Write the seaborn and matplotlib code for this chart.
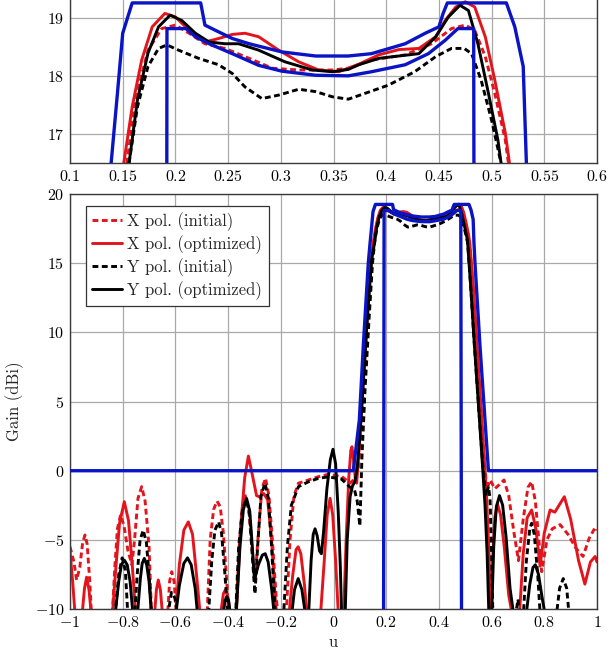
import matplotlib
matplotlib.use("Agg")
import matplotlib.pyplot as plt
from matplotlib.ticker import FuncFormatter, MultipleLocator
import seaborn as sns

# X pol. (initial) - red dashed
xi_u = [-1.0, -0.985, -0.975, -0.963, -0.952, -0.943, -0.935, -0.925, -0.918,
        -0.84, -0.83, -0.82, -0.808, -0.795, -0.78, -0.765, -0.755, -0.742, -0.728, -0.715, -0.7, -0.69,
        -0.63, -0.622, -0.614, -0.605, -0.595,
        -0.48, -0.468, -0.455, -0.442, -0.43, -0.418, -0.405, -0.398,
        -0.37, -0.358, -0.345, -0.335, -0.322, -0.31, -0.298, -0.287, -0.272, -0.258, -0.245, -0.232, -0.218, -0.21,
        -0.18, -0.165, -0.15, -0.133, -0.115, -0.095, -0.057, -0.019, 0.032, 0.063, 0.08, 0.095, 0.105, 0.12,
        0.135, 0.148, 0.154, 0.162, 0.174, 0.187, 0.2, 0.213, 0.228, 0.247, 0.27, 0.292, 0.317, 0.349, 0.364,
        0.386, 0.418, 0.443, 0.462, 0.475, 0.484, 0.494, 0.503, 0.513, 0.516, 0.528, 0.543, 0.558, 0.572,
        0.58, 0.588, 0.595, 0.612, 0.63, 0.647, 0.665, 0.685, 0.702, 0.72, 0.738, 0.752, 0.766, 0.79,
        0.81, 0.83, 0.86, 0.89, 0.92, 0.947, 0.97, 0.993, 1.0]
xi_g = [-5.5, -6.6, -7.9, -7.0, -5.2, -4.65, -5.3, -8.0, -10.6,
        -10.6, -7.0, -4.2, -3.2, -4.0, -5.8, -6.8, -5.0, -2.0, -1.15, -2.2, -5.5, -10.6,
        -10.6, -8.0, -7.3, -8.0, -10.6,
        -10.6, -5.0, -2.8, -2.2, -2.6, -4.5, -8.0, -10.6,
        -10.6, -5.5, -2.5, -1.8, -2.8, -5.5, -8.0, -5.0, -1.3, -0.55, -1.8, -5.0, -9.0, -10.6,
        -10.6, -5.0, -1.8, -0.9, -0.8, -0.67, -0.43, -0.26, -0.43, -0.9, -0.6, 0.3, 3.0, 7.6,
        12.0, 15.5, 16.5, 17.59, 18.44, 18.81, 18.87, 18.73, 18.55, 18.47, 18.3, 18.13, 18.1, 18.1, 18.13,
        18.27, 18.36, 18.55, 18.81, 18.87, 18.78, 18.33, 17.7, 16.9, 16.5, 13.5, 9.0, 4.8, 0.8,
        -0.9, -1.0, -0.67, -1.3, -1.0, -0.67, -1.8, -4.5, -6.5, -3.5, -1.2, -0.8, -2.2, -7.3,
        -5.0, -4.2, -3.9, -4.6, -5.6, -6.2, -4.9, -4.1, -4.3]

# X pol. (optimized) - red solid
xo_u = [-1.0, -0.99, -0.98, -0.955, -0.945, -0.937, -0.928, -0.918,
        -0.84, -0.826, -0.812, -0.794, -0.778, -0.763, -0.75,
        -0.68, -0.672, -0.665, -0.657, -0.648,
        -0.6, -0.585, -0.568, -0.551, -0.535, -0.52, -0.505,
        -0.43, -0.418, -0.41, -0.4, -0.39,
        -0.37, -0.352, -0.337, -0.323, -0.308, -0.292, -0.28, -0.265, -0.25, -0.235, -0.222, -0.215,
        -0.17, -0.155, -0.142, -0.134, -0.124, -0.11, -0.1,
        -0.05, -0.035, -0.024, -0.013, -0.003, 0.008, 0.019, 0.038, 0.048, 0.058, 0.066, 0.07, 0.076,
        0.083, 0.088, 0.095, 0.105, 0.12, 0.135, 0.145, 0.151, 0.159, 0.168, 0.178, 0.19, 0.2, 0.213,
        0.228, 0.241, 0.254, 0.266, 0.279, 0.298, 0.317, 0.336, 0.355, 0.374, 0.393, 0.412, 0.431, 0.447,
        0.456, 0.466, 0.475, 0.484, 0.494, 0.503, 0.513, 0.517, 0.53, 0.545, 0.558, 0.57, 0.58, 0.59,
        0.597, 0.605, 0.612, 0.622, 0.634, 0.648, 0.665, 0.68,
        0.705, 0.72, 0.735, 0.752, 0.768, 0.784, 0.8, 0.822, 0.84, 0.876, 0.9, 0.93, 0.954, 0.975, 0.993, 1.0]
xo_g = [-5.8, -8.0, -10.6, -10.6, -8.5, -7.7, -8.6, -10.6,
        -10.6, -7.0, -3.8, -2.24, -3.6, -7.0, -10.6,
        -10.6, -8.6, -7.9, -8.6, -10.6,
        -10.6, -6.8, -4.3, -3.7, -4.6, -7.5, -10.6,
        -10.6, -8.9, -8.6, -9.2, -10.6,
        -10.6, -4.0, -0.5, 1.06, -0.3, -1.8, -1.9, -1.65, -2.1, -5.0, -9.0, -10.6,
        -10.6, -7.6, -5.7, -5.5, -6.0, -8.3, -10.6,
        -10.6, -6.5, -3.2, -2.0, -3.2, -6.5, -10.6, -10.6, -5.0, -0.5, 1.5, 1.73, 0.8,
        -0.6, -0.9, 1.0, 4.0, 8.5, 13.0, 15.5, 16.5, 17.47, 18.27, 18.84, 19.07, 19.01, 18.78,
        18.58, 18.64, 18.71, 18.73, 18.67, 18.44, 18.24, 18.1, 18.07, 18.2, 18.36, 18.45, 18.47, 18.67,
        18.95, 19.18, 19.27, 19.18, 18.67, 17.93, 17.02, 16.5, 13.5, 9.0, 5.0, 1.5, -1.5, -6.0,
        -10.6, -6.0, -3.4, -2.4, -3.2, -5.5, -9.0, -10.6,
        -10.6, -6.0, -3.4, -2.84, -4.2, -6.9, -4.5, -2.84, -3.0, -1.88, -3.5, -6.5, -8.2, -6.6, -6.2, -6.6]

# Y pol. (initial) - black dashed
yi_u = [-1.0, -0.83, -0.815, -0.802, -0.79, -0.78,
        -0.755, -0.745, -0.734, -0.722, -0.71, -0.7, -0.69,
        -0.63, -0.615, -0.602, -0.59,
        -0.475, -0.462, -0.45, -0.436, -0.425, -0.412, -0.4,
        -0.372, -0.36, -0.345, -0.33, -0.318, -0.307, -0.298, -0.288, -0.275, -0.26, -0.247, -0.235, -0.225, -0.22,
        -0.19, -0.175, -0.16, -0.133, -0.095, -0.057, -0.02, 0.03, 0.06, 0.08, 0.09, 0.1, 0.104, 0.108,
        0.12, 0.135, 0.148, 0.156, 0.164, 0.174, 0.184, 0.192, 0.203, 0.222, 0.241, 0.254, 0.266, 0.282,
        0.298, 0.317, 0.333, 0.349, 0.364, 0.38, 0.402, 0.427, 0.447, 0.462, 0.474, 0.481, 0.49, 0.5,
        0.509, 0.52, 0.535, 0.55, 0.565, 0.575, 0.58, 0.588, 0.594, 0.6, 0.605,
        0.69, 0.7, 0.71, 0.72, 0.732, 0.745, 0.752, 0.762, 0.775, 0.785,
        0.845, 0.858, 0.872, 0.885, 0.895, 1.0]
yi_g = [-10.6, -10.6, -7.5, -6.3, -7.2, -10.6,
        -10.6, -7.5, -5.0, -4.3, -5.2, -7.5, -10.6,
        -10.6, -8.8, -9.2, -10.6,
        -10.6, -6.5, -4.3, -3.7, -4.5, -7.5, -10.6,
        -10.6, -5.5, -2.7, -2.1, -3.2, -6.5, -8.9, -5.5, -1.8, -0.9, -2.0, -5.5, -9.0, -10.6,
        -10.6, -5.5, -2.5, -1.15, -0.8, -0.55, -0.45, -0.6, -1.15, -1.4, -2.2, -4.0, -1.5, 1.0,
        6.0, 11.0, 15.0, 16.5, 17.47, 18.16, 18.47, 18.53, 18.44, 18.3, 18.19, 18.04, 17.81, 17.61,
        17.67, 17.77, 17.73, 17.64, 17.6, 17.7, 17.84, 18.07, 18.33, 18.47, 18.47, 18.38, 17.93, 17.24,
        16.5, 13.5, 9.0, 4.8, 0.8, -1.3, -1.8, -1.15, -2.0, -6.0, -10.6,
        -10.6, -9.3, -10.6, -10.6, -6.5, -4.2, -3.8, -4.6, -7.5, -10.6,
        -10.6, -8.5, -7.8, -8.5, -10.6, -10.6]

# Y pol. (optimized) - black solid
yo_u = [-1.0, -0.83, -0.815, -0.805, -0.794, -0.783, -0.772, -0.76,
        -0.745, -0.733, -0.726, -0.718, -0.709, -0.7, -0.69,
        -0.6, -0.585, -0.568, -0.554, -0.54, -0.525, -0.515,
        -0.42, -0.412, -0.405, -0.398, -0.39,
        -0.37, -0.355, -0.342, -0.33, -0.318, -0.308, -0.3, -0.285, -0.27, -0.259, -0.248, -0.235, -0.224,
        -0.16, -0.148, -0.134, -0.12, -0.105,
        -0.095, -0.085, -0.077, -0.07, -0.062, -0.053, -0.046, -0.038, -0.025, -0.012, -0.002, 0.008,
        0.018, 0.026, 0.031, 0.044, 0.052, 0.063, 0.072, 0.081, 0.09, 0.1, 0.115, 0.13, 0.145, 0.156,
        0.164, 0.174, 0.184, 0.195, 0.206, 0.219, 0.232, 0.247, 0.26, 0.279, 0.304, 0.33, 0.349, 0.364,
        0.374, 0.393, 0.412, 0.431, 0.447, 0.459, 0.47, 0.478, 0.487, 0.497, 0.506, 0.509, 0.52, 0.535,
        0.55, 0.565, 0.575, 0.583, 0.59,
        0.6, 0.608, 0.618, 0.63, 0.642, 0.655, 0.67, 0.685,
        0.73, 0.745, 0.757, 0.766, 0.778, 0.792, 0.805, 1.0]
yo_g = [-10.6, -10.6, -8.0, -6.8, -6.46, -6.8, -8.0, -10.6,
        -10.6, -7.8, -6.7, -6.34, -6.8, -8.0, -10.6,
        -10.6, -8.3, -6.7, -6.3, -6.8, -8.5, -10.6,
        -10.6, -9.4, -9.1, -9.4, -10.6,
        -10.6, -5.5, -2.8, -2.0, -2.9, -5.5, -7.9, -6.8, -6.1, -6.0, -6.6, -8.5, -10.6,
        -10.6, -8.6, -7.8, -8.6, -10.6,
        -10.6, -6.5, -4.6, -4.2, -4.7, -5.8, -6.0, -4.5, -1.3, 0.8, 1.55, 0.5,
        -3.0, -7.0, -10.6, -10.6, -5.0, -1.88, -1.1, -0.8, 0.2, 2.5, 7.0, 11.5, 15.3, 16.5,
        17.59, 18.39, 18.84, 19.04, 18.95, 18.73, 18.58, 18.55, 18.55, 18.44, 18.24, 18.1, 18.07, 18.11,
        18.19, 18.3, 18.34, 18.38, 18.67, 19.01, 19.21, 19.12, 18.55, 17.7, 16.9, 16.5, 13.5, 9.0,
        4.8, 0.5, -2.5, -6.0, -10.6,
        -10.6, -5.5, -2.6, -1.8, -2.5, -4.8, -8.5, -10.6,
        -10.6, -8.2, -7.0, -6.8, -7.5, -9.2, -10.6, -10.6]

# upper and lower masks (blue)
mask_hi_u = [-1.0, 0.075, 0.098, 0.113, 0.132, 0.139, 0.145, 0.15, 0.159, 0.224, 0.228, 0.238, 0.254,
             0.27, 0.301, 0.333, 0.364, 0.386, 0.418, 0.437, 0.45, 0.454, 0.458, 0.514, 0.522, 0.53,
             0.533, 0.537, 0.556, 0.575, 0.588, 1.0]
mask_hi_g = [0, 0, 3.66, 9.0, 15.0, 16.5, 17.7, 18.73, 19.25, 19.25, 18.87, 18.78, 18.64,
             18.55, 18.41, 18.34, 18.34, 18.38, 18.55, 18.73, 18.84, 19.07, 19.25, 19.25, 18.84, 18.16,
             16.5, 15.0, 9.0, 3.66, 0, 0]
mask_lo_u = [0.19, 0.192, 0.21, 0.219, 0.232, 0.254, 0.279, 0.301, 0.333, 0.364, 0.386, 0.418,
             0.44, 0.456, 0.468, 0.483, 0.486]
mask_lo_g = [-12, 18.81, 18.81, 18.67, 18.55, 18.38, 18.18, 18.08, 18.01, 18.0, 18.07, 18.19,
             18.38, 18.61, 18.81, 18.81, -12]

RED = "#e3141c"
BLUE = "#0a14c4"
DASH = (0, (2.0, 1.2))

sns.set_theme(style="whitegrid")
plt.rcParams["font.family"] = "cmr10"
plt.rcParams["mathtext.fontset"] = "cm"
plt.rcParams["axes.unicode_minus"] = False
plt.rcParams["axes.formatter.use_mathtext"] = True

fig = plt.figure(figsize=(6.13, 6.56), dpi=100)
ax_top = fig.add_axes([0.1142, 0.751, 0.8597, 0.249])
ax = fig.add_axes([0.1142, 0.0716, 0.8597, 0.6326])

fmt = FuncFormatter(lambda v, p: "$%g$" % round(v, 3))


def draw(a, with_label):
    curves = [
        (xi_u, xi_g, RED, DASH, "X pol. (initial)"),
        (xo_u, xo_g, RED, "-", "X pol. (optimized)"),
        (yi_u, yi_g, "black", DASH, "Y pol. (initial)"),
        (yo_u, yo_g, "black", "-", "Y pol. (optimized)"),
    ]
    for u, g, c, ls, lab in curves:
        sns.lineplot(x=u, y=g, ax=a, color=c, linestyle=ls, lw=2.1,
                     sort=False, estimator=None,
                     label=lab if with_label else None, legend=with_label)
    sns.lineplot(x=mask_hi_u, y=mask_hi_g, ax=a, color=BLUE, lw=2.4,
                 sort=False, estimator=None, legend=False, zorder=5)
    sns.lineplot(x=mask_lo_u, y=mask_lo_g, ax=a, color=BLUE, lw=2.4,
                 sort=False, estimator=None, legend=False, zorder=5)
    a.grid(True, color="#a9a9a9", lw=0.9)
    a.set_axisbelow(True)
    for s in a.spines.values():
        s.set_color("#3a3a3a")
        s.set_linewidth(1.0)
    a.tick_params(length=0, labelsize=11.5, pad=4, colors="black")
    a.xaxis.set_major_formatter(fmt)
    a.yaxis.set_major_formatter(fmt)


# zoomed passband
draw(ax_top, False)
ax_top.set_xlim(0.1, 0.6)
ax_top.set_ylim(16.5, 19.3)
ax_top.xaxis.set_major_locator(MultipleLocator(0.05))
ax_top.set_yticks([17, 18, 19])
ax_top.spines["top"].set_visible(False)
ax_top.set_xlabel("")
ax_top.set_ylabel("")

# full pattern
draw(ax, True)
ax.set_xlim(-1, 1)
ax.set_ylim(-10, 20)
ax.xaxis.set_major_locator(MultipleLocator(0.2))
ax.yaxis.set_major_locator(MultipleLocator(5))
ax.set_xlabel("u", fontsize=12)
ax.set_ylabel("Gain (dBi)", fontsize=12, labelpad=8)

leg = ax.legend(loc="upper left", bbox_to_anchor=(0.03, 0.972), borderaxespad=0,
                fancybox=False, framealpha=1, edgecolor="#333333", fontsize=12,
                handlelength=1.8, handletextpad=0.3, labelspacing=0.25,
                borderpad=0.4)
leg.get_frame().set_linewidth(0.9)

fig.savefig("out.png", dpi=100)
